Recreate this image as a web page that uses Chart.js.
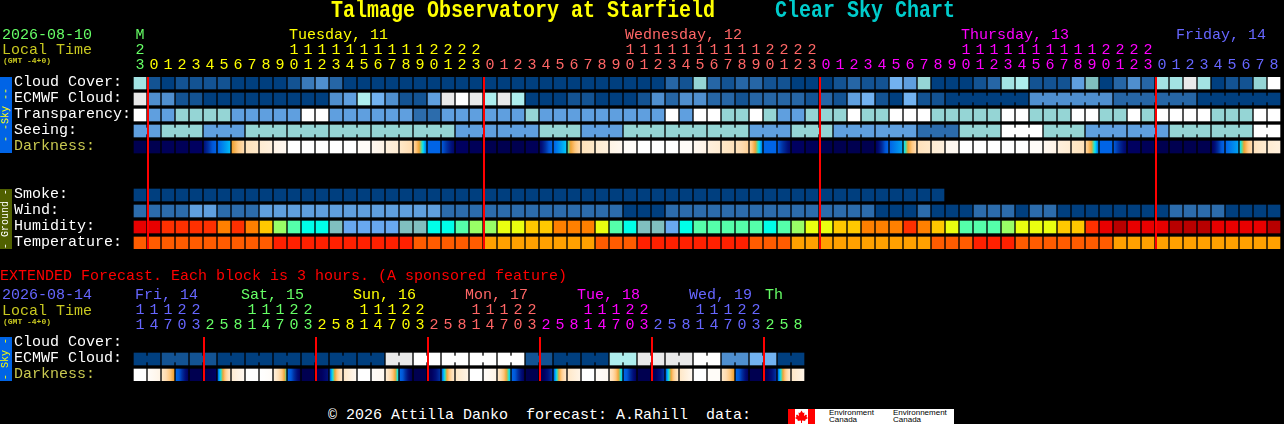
<!DOCTYPE html>
<html>
<head>
<meta charset="utf-8">
<title>Talmage Observatory at Starfield Clear Sky Chart</title>
<script src="https://cdn.jsdelivr.net/npm/chart.js@4"></script>
<style>
html,body{margin:0;padding:0;background:#000;width:1284px;height:424px;overflow:hidden}
canvas{position:absolute;left:0}
.t{position:absolute;white-space:pre;font-family:"Liberation Mono",monospace}
.strip{position:absolute;left:0;width:12px;display:flex;align-items:center;justify-content:center;overflow:hidden}
.strip span{display:block;transform:rotate(-90deg);white-space:pre;font:10px/10px "Liberation Mono",monospace}
</style>
</head>
<body>
<canvas id="main" width="1284" height="260" style="top:0"></canvas>
<canvas id="ext" width="1284" height="120" style="top:280px"></canvas>
<script>
// ---------- hours on the x axis ----------
const mainHours = [23,
 0,1,2,3,4,5,6,7,8,9,10,11,12,13,14,15,16,17,18,19,20,21,22,23,
 0,1,2,3,4,5,6,7,8,9,10,11,12,13,14,15,16,17,18,19,20,21,22,23,
 0,1,2,3,4,5,6,7,8,9,10,11,12,13,14,15,16,17,18,19,20,21,22,23,
 0,1,2,3,4,5,6,7,8];
const mainHourDay = [0,
 1,1,1,1,1,1,1,1,1,1,1,1,1,1,1,1,1,1,1,1,1,1,1,1,
 2,2,2,2,2,2,2,2,2,2,2,2,2,2,2,2,2,2,2,2,2,2,2,2,
 3,3,3,3,3,3,3,3,3,3,3,3,3,3,3,3,3,3,3,3,3,3,3,3,
 4,4,4,4,4,4,4,4,4];
const extHours = [11,14,17,20,23, 2,5,8,11,14,17,20,23, 2,5,8,11,14,17,20,23, 2,5,8,11,14,17,20,23, 2,5,8,11,14,17,20,23, 2,5,8,11,14,17,20,23, 2,5,8];
const extHourDay = [4,4,4,4,4, 5,5,5,5,5,5,5,5, 1,1,1,1,1,1,1,1, 2,2,2,2,2,2,2,2, 3,3,3,3,3,3,3,3, 4,4,4,4,4,4,4,4, 5,5,5];
const dayColors = ['#66ff66','#ffff00','#ff6666','#ff00ff','#6666ff','#66ff66'];
const mainMidnights = [1,25,49,73];
const extMidnights = [5,13,21,29,37,45];

// ---------- row names ----------
const mainRowNames = ['Cloud Cover:','ECMWF Cloud:','Transparency:','Seeing:','Darkness:','','','Smoke:','Wind:','Humidity:','Temperature:'];
const extRowNames = ['Cloud Cover:','ECMWF Cloud:','Darkness:'];

// ---------- series (levels) ----------
const cloudCover = [9,1,0,1,1,1,1,0,0,0,0,1,3,4,2,0,0,0,0,0,0,
 0,0,0,0,0,0,0,0,0,0,0,0,0,0,0,0,0,2,1,8,2,1,2,2,1,1,0,0,0,1,2,
 1,1,6,5,8,0,0,0,1,2,9,10,1,1,1,5,7,0,2,4,2,9,9,11,9,0,1,1,8,12];
const ecmwfCloud = [11,4,4,1,1,0,0,0,0,0,0,0,0,0,4,5,10,6,4,1,1,
 5,11,12,11,10,11,10,0,0,0,1,1,0,0,0,1,4,2,4,4,2,2,1,2,2,2,2,1,2,1,5,
 6,1,0,6,1,1,0,0,0,0,0,0,4,4,4,4,4,4,2,2,2,2,2,2,0,0,0,0,0,0];
const transparency = [4,2,2,3,3,3,3,2,2,2,2,2,4,4,2,2,2,2,2,2,1,
 1,2,2,2,2,2,2,3,2,2,2,2,2,2,2,2,2,4,2,4,4,3,3,4,3,2,2,3,3,3,4,
 3,3,4,4,4,3,3,3,3,3,4,4,3,3,3,4,4,3,3,4,3,4,4,4,4,3,3,3,4,4];
const seeing = [2,2,3,3,3,2,2,2,3,3,3,3,3,3,3,3,3,3,3,3,3,
 3,3,2,2,2,2,2,2,3,3,3,2,2,2,3,3,3,3,3,3,3,3,3,2,2,2,3,3,3,2,2,
 2,2,2,2,1,1,1,3,3,3,4,4,4,3,3,3,2,2,2,2,2,2,3,3,3,3,3,3,4,4];
const darkStart = [13,13,12.5,12.5,12,11,8,6,3.5,2.5,1.5,0,0,0,0,0,0.5,1,2,3,4.5,
 8,9,12,12.5,13,13,13,12.5,11.5,8,6.5,3.5,2.5,1.5,0.5,0,0,0,0.5,1,2,3,3.5,4.5,8,9,12,12.5,13,13,13,
 13,12,8,7,3.5,2.5,1,0,0,0,0,0,0.5,1,2,3,4.5,8,9,12,12.5,13,13,13,13,12,8,7,3.5,2.5];
const darkEnd = [13,13,12.5,12.5,12,8.2,7.3,4,3,2,1,0,0,0,0,0,0.5,1.5,2.5,4,7.8,
 8,11.5,12,12.5,13,13,13,12.5,8.2,7.2,4,3,2,1,0.5,0,0,0,0.5,1.5,2.5,3.5,4.5,7.8,8,11.5,12,12.5,13,13,13,
 13,8.2,7.5,4,3,2,1,0,0,0,0,0,0.5,1.5,2.5,3.5,7.8,8,11.5,12,12.5,13,13,13,13,8.2,7.5,4,2.5,2];
const smoke = [0,0,0,0,0,0,0,0,0,0,0,0,0,0,0,0,0,0,0,0,0,
 0,0,0,0,0,0,0,0,0,0,0,0,0,0,0,0,0,0,0,0,0,0,0,0,0,0,0,0,0,0,0,
 0,0,0,0,0,0];
const wind = [1,1,1,1,2,2,1,1,1,2,2,2,2,2,2,2,2,2,2,2,2,
 2,1,1,1,1,1,1,1,1,1,1,1,1,1,0,0,0,1,1,1,1,1,1,1,1,1,1,1,1,1,1,
 1,0,0,0,1,0,0,0,1,1,1,0,1,1,0,0,0,0,0,0,0,0,1,1,1,1,0,0,0,0];
const humidity = [1,1,2,2,2,2,3,2,3,4,6,7,8,8,9,10,10,10,10,9,9,
 8,8,7,6,6,5,5,4,4,3,3,3,5,7,8,9,9,10,8,7,7,7,7,7,8,7,6,5,5,4,4,
 3,3,3,2,3,4,5,7,7,7,6,5,5,5,4,4,2,1,0,1,1,1,0,0,0,1,1,1,1,0];
const temperature = [1,1,1,1,1,1,1,1,1,1,0,0,0,0,0,0,0,0,0,0,1,
 1,1,1,1,2,2,2,2,2,2,2,2,1,1,1,0,0,0,0,0,0,0,0,1,1,1,2,2,2,2,2,
 2,2,2,2,2,1,1,1,0,0,0,1,1,1,1,1,1,1,2,2,2,2,2,2,2,2,2,2,2,2];
const extEcmwf = [0,0,1,1,1,1,0,0,0,0,0,0,0,0,0,0,0,0,11,11,12,12,12,12,12,12,12,12,
 1,1,0,0,0,0,10,10,11,11,11,11,12,12,4,4,6,6,0,0];
const extDarkStart = [0,0.5,3,8,13,13,8,2.5,0,0,2,8,13,13,8,3,0,0.5,2.5,8,13,13,8,3,0,0.5,3,8,13,13,8,3,0,0.5,3,8,13,13,8,3,0,0.5,3,8,13,13,8,3];
const extDarkEnd   = [0,1.5,6,12,13,12,3,1,0,0.5,6.5,12,13,11,3,1,0,1,7,12.5,13,10,3,1.5,0,1.5,7.2,12,13,10,3,1.5,0,1,7.2,12,13,10,3,1,0,0.5,6,12,13,10,3,1.5];

// ---------- block starts: joined cells belong to one forecast block ----------
const seeingBlocks = [0,2,5,8,11,14,17,20,23,26,29,32,35,38,41,44,47,50,53,56,59,62,65,68,71,74,77,80];
const ecmwfBlocks = [58,64,70,76];
const extEcmwfBlocks = [0,2,4,6,8,10,12,14,16,18,20,22,24,26,28,30,32,34,36,38,40,42,44,46];

// ---------- palettes ----------
const cloudPalette = ['#003f7f','#135393','#2666a6','#3a7aba','#4f8fcf','#5f9fdf','#72b2f0','#7fbfbf','#95d5d5','#a3e3e3','#aeeeee','#e9e9e9','#ffffff'];
const skyPalette = ['#003f7f','#2c6cac','#5f9fdf','#95d5d5','#ffffff'];
const humidityPalette = ['#b80000','#e80000','#ff3000','#ff8000','#ffc800','#eaff10','#99ff66','#55ffaa','#00ffe8','#80bfbf','#68a8f0'];
const temperaturePalette = ['#ff2000','#ff5c00','#ffa000'];
const darkStops = [[0,'#ffffff'],[1,'#fff8f0'],[2,'#fff0dc'],[3,'#ffe8c8'],[4,'#ffdcb0'],[5,'#ffc880'],[6,'#f0a030'],[6.5,'#60d890'],[7,'#00e0ff'],[7.5,'#00a0f0'],[8,'#0064e6'],[9,'#0058d8'],[10,'#0030a0'],[11,'#00107a'],[12,'#000060'],[13,'#000050']];

function darkRGB(d){
  for(let i=1;i<darkStops.length;i++){
    if(d<=darkStops[i][0]){
      const [a,ca]=darkStops[i-1],[b,cb]=darkStops[i],f=(d-a)/(b-a);
      const p=s=>[1,3,5].map(k=>parseInt(s.substr(k,2),16));
      const A=p(ca),B=p(cb);
      return 'rgb('+A.map((v,k)=>Math.round(v+(B[k]-v)*f)).join(',')+')';
    }
  }
  return darkStops[darkStops.length-1][1];
}
const CELL = 0.75;           // 12px of the 16px row pitch
const LABEL_NUDGE = 1/16;    // row names sit 1px above the cell centre
const tickLabels = (hours,firstTop) => hours.map((h,i)=>[i===0?firstTop:'', h>=10?String(h)[0]:'', String(h%10)]);

function cellDataset(values,row,palette){
  return {data:values.map(v=>[row,row+CELL]),backgroundColor:values.map(v=>palette[v]),
    barThickness:12,grouped:false,borderWidth:0,xAxisID:'x',yAxisID:'y'};
}
function darkDataset(starts,ends,row){
  return {data:starts.map(()=>[row,row+CELL]),barThickness:12,grouped:false,borderWidth:0,xAxisID:'x',yAxisID:'y',
    backgroundColor:ctx=>{
      const i=ctx.dataIndex,c=ctx.chart,s=starts[i],e=ends[i];
      if(i===undefined||!c.chartArea||s===e) return darkRGB(s===undefined?0:s);
      const px=c.scales.x.getPixelForValue(i);
      if(!isFinite(px)) return darkRGB(s);
      const g=c.ctx.createLinearGradient(px-6,0,px+6,0);
      for(let k=0;k<=12;k++) g.addColorStop(k/12,darkRGB(s+(e-s)*k/12));
      return g;
    }};
}
function bridgeDataset(values,row,palette,blocks,n){
  const data=new Array(n+1).fill(null),colors=new Array(n+1).fill('#000');
  blocks.forEach((st,b)=>{
    const end=b+1<blocks.length?blocks[b+1]:n;
    for(let i=st;i<end-1;i++){ data[i+1]=[row+3/16,row+9/16]; colors[i+1]=palette[values[i]]; }
  });
  return {data,backgroundColor:colors,barThickness:2,grouped:false,borderWidth:0,xAxisID:'xb',yAxisID:'y',order:5};
}
const midnightPlugin = cols => ({id:'midnight',afterDatasetsDraw(chart){
  const {ctx,chartArea:a,scales:{x}}=chart;
  ctx.save();ctx.fillStyle='#ff0000';
  cols.forEach(c=>ctx.fillRect(Math.round(x.getPixelForValue(c))-7,a.top,2,a.bottom-a.top));
  ctx.restore();
}});
function makeChart(id,labels,hourDay,rowNames,datasets,midnights,topPad,rowSpan,bottomPad,rightPad){
  return new Chart(document.getElementById(id),{
    type:'bar',
    data:{labels,datasets},
    plugins:[midnightPlugin(midnights)],
    options:{
      responsive:false,animation:false,devicePixelRatio:1,
      layout:{padding:{left:14,right:rightPad,top:0,bottom:bottomPad}},
      plugins:{legend:{display:false},title:{display:false},tooltip:{enabled:false}},
      scales:{
        x:{type:'category',position:'top',offset:true,
          grid:{display:false},border:{display:false},
          afterFit:s=>{s.height=topPad;},
          ticks:{autoSkip:false,maxRotation:0,minRotation:0,padding:-4,
            font:{family:'"Liberation Mono"',size:15,lineHeight:1},
            color:c=>dayColors[hourDay[c.index]]}},
        xb:{type:'category',display:false,offset:false,labels:new Array(labels.length+1).fill('')},
        y:{type:'linear',min:0,max:rowSpan,reverse:true,
          grid:{display:false},border:{display:false},
          afterFit:s=>{s.width=119;},
          afterBuildTicks:s=>{s.ticks=rowNames.map((n,i)=>({value:i+CELL/2-LABEL_NUDGE})).filter((t,i)=>rowNames[i]!=='');},
          ticks:{autoSkip:false,crossAlign:'far',padding:0,
            font:{family:'"Liberation Mono"',size:15,lineHeight:1},
            callback:v=>rowNames[Math.round(v-CELL/2)],
            color:c=>rowNames[Math.round(c.tick.value-CELL/2)]==='Darkness:'?'#c8c850':'#ffffff'}}
      }
    }
  });
}
const mainChart = makeChart('main',tickLabels(mainHours,'M'),mainHourDay,mainRowNames,[
  bridgeDataset(seeing,3,skyPalette,seeingBlocks,82),
  bridgeDataset(ecmwfCloud,1,cloudPalette,ecmwfBlocks,82),
  cellDataset(cloudCover,0,cloudPalette),
  cellDataset(ecmwfCloud,1,cloudPalette),
  cellDataset(transparency,2,skyPalette),
  cellDataset(seeing,3,skyPalette),
  darkDataset(darkStart,darkEnd,4),
  cellDataset(smoke,7,skyPalette),
  cellDataset(wind,8,skyPalette),
  cellDataset(humidity,9,humidityPalette),
  cellDataset(temperature,10,temperaturePalette)
],mainMidnights,77,10.75,11,3);
const extChart = makeChart('ext',tickLabels(extHours,''),extHourDay,extRowNames,[
  bridgeDataset(extEcmwf,1,cloudPalette,extEcmwfBlocks,48),
  cellDataset(extEcmwf,1,cloudPalette),
  darkDataset(extDarkStart,extDarkEnd,2)
],extMidnights,57,2.75,19,479);

// ---------- text around the charts ----------
function text(x,cy,str,color,size,bold){
  const e=document.createElement('div');e.className='t';e.textContent=str;
  e.style.cssText='left:'+x+'px;top:'+(cy-size/2)+'px;color:'+color+';font-size:'+size+'px;line-height:'+size+'px;'+(bold?'font-weight:bold;':'');
  document.body.appendChild(e);return e;
}
text(331,11,'Talmage Observatory at Starfield','#ffff00',20,true).style.transform='scaleY(1.15)';
text(775,11,'Clear Sky Chart','#00cccc',20,true).style.transform='scaleY(1.15)';
text(2,35,'2026-08-10','#66ff66',15);
text(2,50,'Local Time','#c8c820',15);
text(3,61,'(GMT -4+0)','#c8c820',8,true);
const mainDays=[['Tuesday, 11',289,1],['Wednesday, 12',625,2],['Thursday, 13',961,3],['Friday, 14',1176,4]];
mainDays.forEach(d=>text(d[1],35,d[0],dayColors[d[2]],15));
text(0,276,'EXTENDED Forecast. Each block is 3 hours. (A sponsored feature)','#ff0000',15);
text(2,295,'2026-08-14','#6666ff',15);
text(2,311,'Local Time','#c8c820',15);
text(3,322,'(GMT -4+0)','#c8c820',8,true);
const extDays=[['Fri, 14',135,4],['Sat, 15',241,5],['Sun, 16',353,1],['Mon, 17',465,2],['Tue, 18',577,3],['Wed, 19',689,4],['Th',765,5]];
extDays.forEach(d=>text(d[1],295,d[0],dayColors[d[2]],15));
text(328,415,'\u00a9 2026 Attilla Danko  forecast: A.Rahill  data:','#ffffff',15);

function strip(top,h,bg,color,str){
  const e=document.createElement('div');e.className='strip';
  e.style.cssText='top:'+top+'px;height:'+h+'px;background:'+bg+';color:'+color;
  const s=document.createElement('span');s.textContent=str;e.appendChild(s);
  document.body.appendChild(e);
}
strip(77,76,'#0064e6','#ffff00','- -Sky --');
strip(189,60,'#506000','#ffffff','- Ground -');
strip(337,44,'#0064e6','#ffff00','- Sky -');

// ---------- Environment Canada signature ----------
const logo=document.createElement('div');
logo.style.cssText='position:absolute;left:788px;top:409px;width:166px;height:15px;background:#fff;overflow:hidden';
logo.innerHTML='<svg width="27" height="15" style="position:absolute;left:0;top:0" viewBox="0 0 27 15">'+
 '<rect width="7" height="15" fill="#f00"/><rect x="20" width="7" height="15" fill="#f00"/>'+
 '<polygon fill="#f00" points="13.5,1.5 15,4 16.5,3.5 16,7 18,5.5 19,6.5 18.5,8 20,9 17,11 17.5,12 14,11.5 14,14 13,14 13,11.5 9.5,12 10,11 7,9 8.500,8 8,6.500 9,5.500 11,7 10.500,3.5 12,4"/></svg>';
document.body.appendChild(logo);
[['Environment',41,0],['Canada',41,7],['Environnement',105,0],['Canada',105,7]].forEach(t=>{
  const e=document.createElement('div');e.textContent=t[0];
  e.style.cssText='position:absolute;left:'+t[1]+'px;top:'+t[2]+'px;color:#000;font:8px/8px "Liberation Sans",sans-serif;white-space:pre';
  logo.appendChild(e);
});
</script>
</body>
</html>
